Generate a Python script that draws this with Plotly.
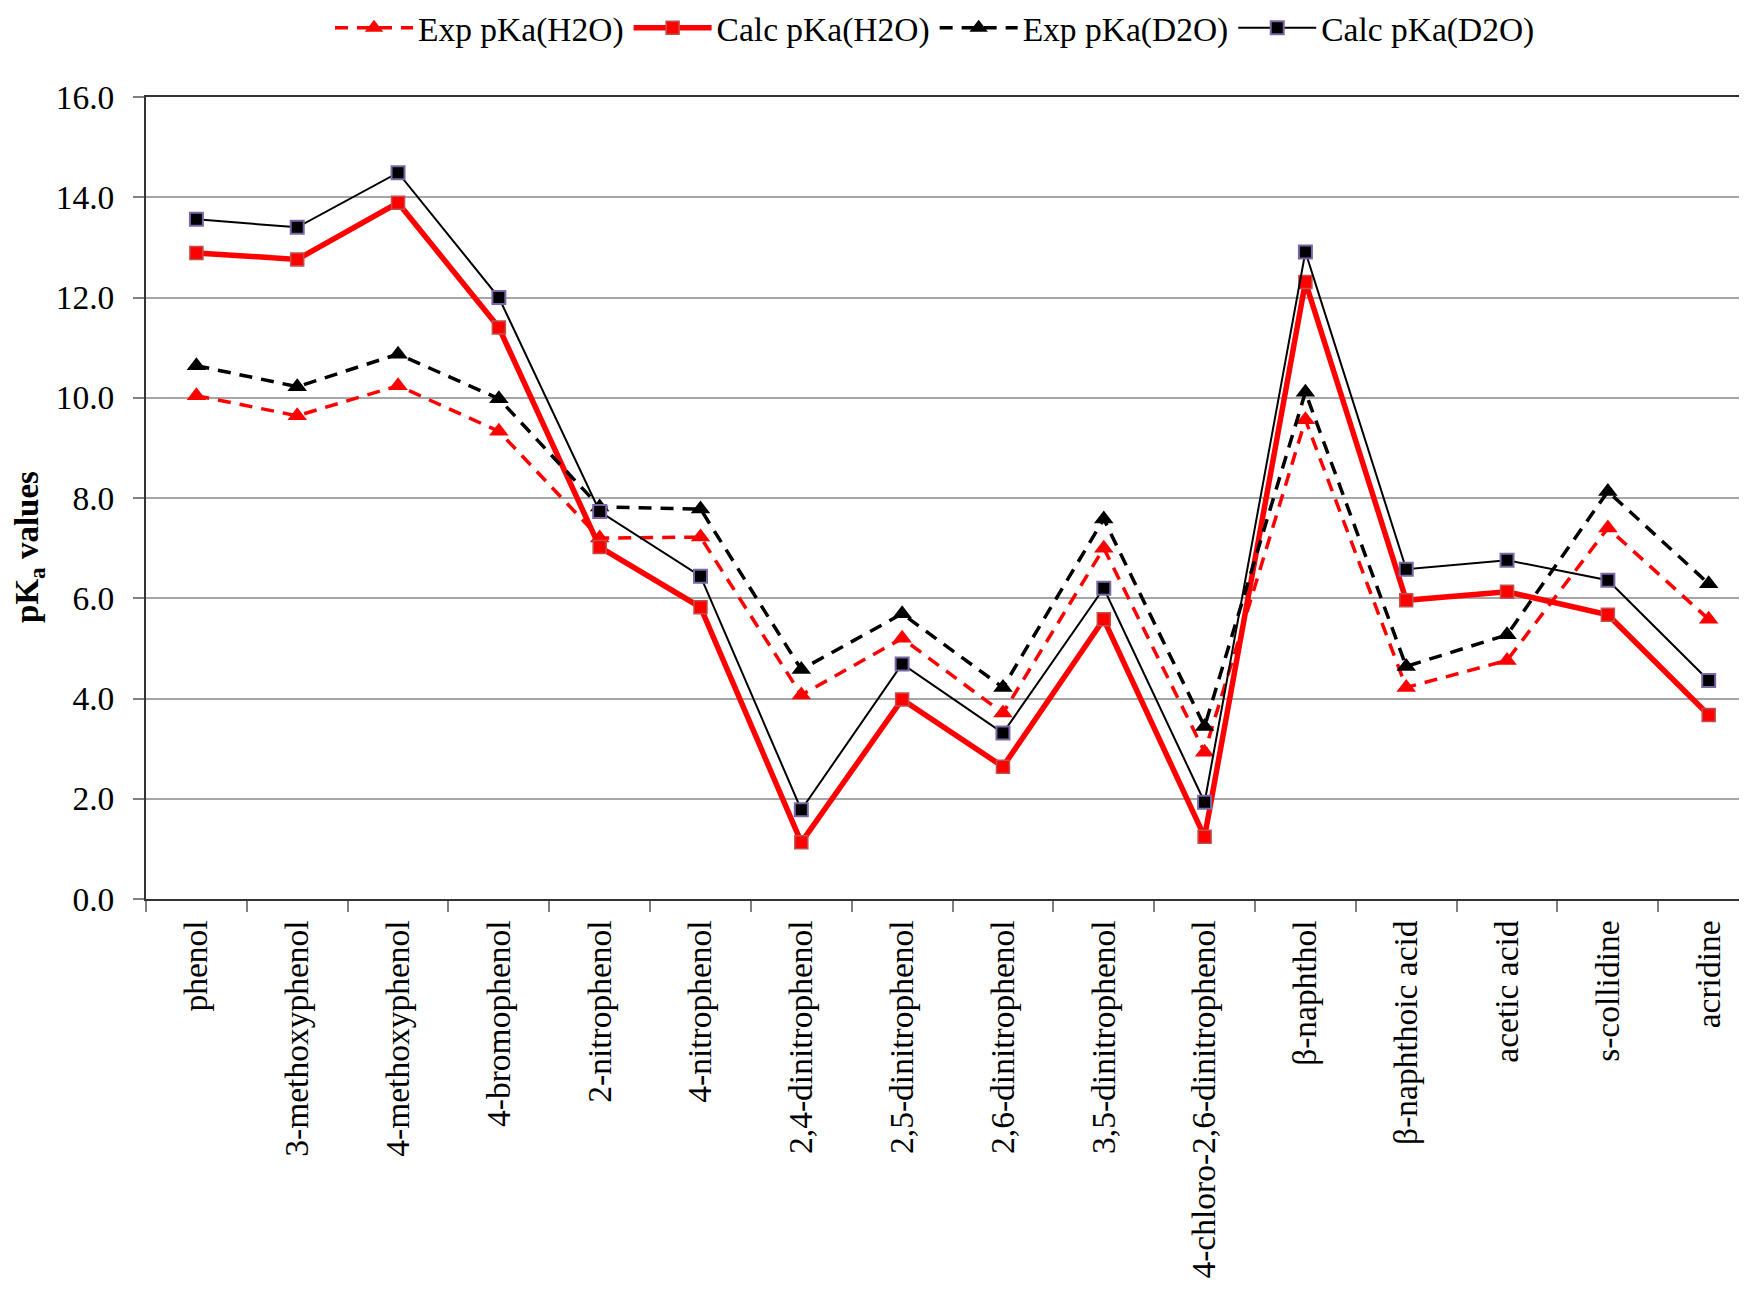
import plotly.graph_objects as go

categories = ["phenol", "3-methoxyphenol", "4-methoxyphenol", "4-bromophenol",
              "2-nitrophenol", "4-nitrophenol", "2,4-dinitrophenol", "2,5-dinitrophenol",
              "2,6-dinitrophenol", "3,5-dinitrophenol", "4-chloro-2,6-dinitrophenol",
              "β-naphthol", "β-naphthoic acid", "acetic acid", "s-collidine", "acridine"]

exp_h2o = [10.04, 9.64, 10.24, 9.33, 7.20, 7.22, 4.07, 5.20, 3.71, 7.00, 2.93, 9.56, 4.22, 4.76, 7.40, 5.58]
calc_h2o = [12.89, 12.76, 13.89, 11.40, 7.02, 5.82, 1.13, 3.98, 2.64, 5.58, 1.24, 12.31, 5.96, 6.13, 5.67, 3.67]
exp_d2o = [10.64, 10.22, 10.87, 9.98, 7.82, 7.78, 4.58, 5.69, 4.22, 7.58, 3.44, 10.11, 4.64, 5.27, 8.13, 6.29]
calc_d2o = [13.56, 13.40, 14.49, 12.00, 7.73, 6.44, 1.78, 4.69, 3.31, 6.20, 1.93, 12.91, 6.58, 6.76, 6.36, 4.36]

y_ticks = [0, 2, 4, 6, 8, 10, 12, 14, 16]

FONT = "Liberation Serif, Times New Roman, serif"
FS = 33.5
idx = list(range(len(categories)))
DASH = "13px,9px"

# page body has an 8px default margin; figure is sized to fit the window
W, H = 1739, 1282

fig = go.Figure()
fig.add_trace(go.Scatter(
    x=idx, y=exp_h2o, name="Exp pKa(H2O)", mode="lines+markers",
    line=dict(color="#ff0000", width=3.5, dash=DASH),
    marker=dict(symbol="triangle-up", size=17, color="#ff0000")))
fig.add_trace(go.Scatter(
    x=idx, y=calc_h2o, name="Calc pKa(H2O)", mode="lines+markers",
    line=dict(color="#ff0000", width=5.5),
    marker=dict(symbol="square", size=13, color="#ff0000",
                line=dict(color="#c0504d", width=1.5))))
fig.add_trace(go.Scatter(
    x=idx, y=exp_d2o, name="Exp pKa(D2O)", mode="lines+markers",
    line=dict(color="#000000", width=3.5, dash=DASH),
    marker=dict(symbol="triangle-up", size=17, color="#000000")))
fig.add_trace(go.Scatter(
    x=idx, y=calc_d2o, name="Calc pKa(D2O)", mode="lines+markers",
    line=dict(color="#000000", width=2),
    marker=dict(symbol="square", size=13, color="#000000",
                line=dict(color="#7a68a6", width=2))))

fig.update_layout(
    width=W, height=H,
    margin=dict(l=138, r=0, t=89, b=391, autoexpand=False),
    paper_bgcolor="white", plot_bgcolor="white",
    font=dict(family=FONT, size=FS, color="#000000"),
    showlegend=True,
    legend=dict(orientation="h", xref="container", x=927 / W, xanchor="center",
                yref="container", y=1 - 20 / H, yanchor="middle", itemwidth=78,
                font=dict(size=FS), tracegroupgap=0, bgcolor="rgba(0,0,0,0)"),
)

fig.update_xaxes(
    type="category", tickson="boundaries",
    tickmode="array", tickvals=idx, ticktext=categories,
    range=[-0.5, 15.38], tickangle=-90, automargin=False,
    showgrid=False, zeroline=False,
    showline=True, linecolor="#333333", linewidth=2, mirror=True,
    ticks="outside", ticklen=11, tickcolor="#808080", tickwidth=1.5,
    ticklabelstandoff=6,
    tickfont=dict(family=FONT, size=FS),
)

fig.update_yaxes(
    range=[0, 16], tickvals=y_ticks, tickformat=".1f", automargin=False,
    showgrid=True, gridcolor="#a6a6a6", gridwidth=1.5, zeroline=False,
    showline=True, linecolor="#333333", linewidth=2,
    ticks="outside", ticklen=11, tickcolor="#808080", tickwidth=1.5,
    ticklabelstandoff=12,
    tickfont=dict(family=FONT, size=FS),
)

fig.add_annotation(
    text="<b>pK<sub>a</sub> values</b>", textangle=-90,
    xref="paper", yref="paper", x=(22 - 138) / (W - 138), y=0.439,
    xanchor="center", yanchor="middle", showarrow=False,
    font=dict(family=FONT, size=33, color="#000000"),
)

fig.write_html("out.html")
